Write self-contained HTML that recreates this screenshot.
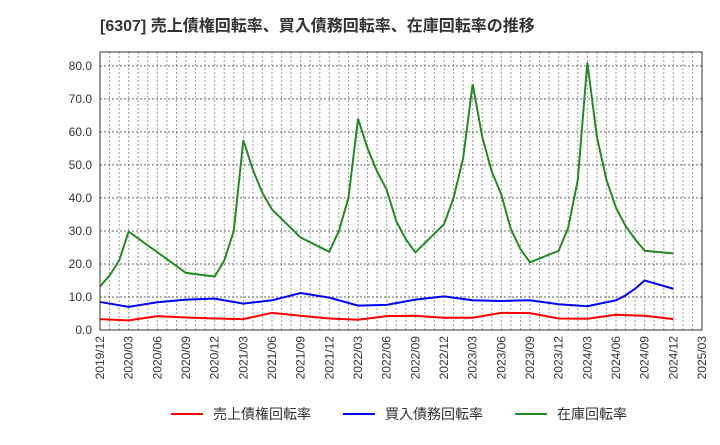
<!DOCTYPE html>
<html><head><meta charset="utf-8"><style>
body{margin:0;background:#fff;font-family:"Liberation Sans","Noto Sans CJK JP",sans-serif;}
</style></head><body>
<svg width="720" height="440" xmlns="http://www.w3.org/2000/svg">
<text x="100" y="31" font-size="16" font-weight="bold" fill="#333" font-family="Liberation Sans, Noto Sans CJK JP, sans-serif">[6307]  売上債権回転率、買入債務回転率、在庫回転率の推移</text>
<g id="grid"></g>
<g id="axes"></g>
<g id="series"></g>
<rect x="100" y="52" width="602" height="278" fill="none" stroke="#333" stroke-width="1"/>
<g font-size="14" font-family="Liberation Sans, Noto Sans CJK JP, sans-serif">
<line x1="171" y1="414" x2="203" y2="414" stroke="#ff0000" stroke-width="2"/><text x="213" y="419" fill="#333">売上債権回転率</text>
<line x1="343" y1="414" x2="375" y2="414" stroke="#0000ff" stroke-width="2"/><text x="385" y="419" fill="#333">買入債務回転率</text>
<line x1="515" y1="414" x2="547" y2="414" stroke="#228b22" stroke-width="2"/><text x="557" y="419" fill="#333">在庫回転率</text>
</g>
</svg>
<script>
const yTicks=[0,10,20,30,40,50,60,70,80];
const xTickLabels=["2019/12","2020/03","2020/06","2020/09","2020/12","2021/03","2021/06","2021/09","2021/12","2022/03","2022/06","2022/09","2022/12","2023/03","2023/06","2023/09","2023/12","2024/03","2024/06","2024/09","2024/12","2025/03"];
const invDates=["2019/12","2020/01","2020/02","2020/03","2020/09","2020/12","2021/01","2021/02","2021/03","2021/04","2021/05","2021/06","2021/09","2021/12","2022/01","2022/02","2022/03","2022/04","2022/05","2022/06","2022/07","2022/08","2022/09","2022/12","2023/01","2023/02","2023/03","2023/04","2023/05","2023/06","2023/07","2023/08","2023/09","2023/12","2024/01","2024/02","2024/03","2024/04","2024/05","2024/06","2024/07","2024/08","2024/09","2024/12"];
const invValues=[13.2,16.5,21,29.8,17.3,16.2,21,30,57.5,48.5,41.5,36.5,28,23.7,30,40,64,55,48,42.5,33,27.5,23.5,32,40,52,74.5,58.5,48,41,30.5,24.5,20.5,24,31,45.5,81,58.5,45.5,37,31.5,27.5,24,23.2];
const payDates=["2019/12","2020/03","2020/06","2020/09","2020/12","2021/03","2021/06","2021/09","2021/12","2022/03","2022/06","2022/09","2022/12","2023/03","2023/06","2023/09","2023/12","2024/03","2024/06","2024/07","2024/08","2024/09","2024/12"];
const payValues=[8.5,7,8.4,9.2,9.5,8,9,11.2,9.8,7.4,7.6,9.2,10.2,9,8.8,9,7.8,7.2,9,10.5,12.5,15,12.5];
const recDates=["2019/12","2020/03","2020/06","2020/09","2020/12","2021/03","2021/06","2021/09","2021/12","2022/03","2022/06","2022/09","2022/12","2023/03","2023/06","2023/09","2023/12","2024/03","2024/06","2024/09","2024/12"];
const recValues=[3.3,2.9,4.2,3.8,3.5,3.3,5.2,4.3,3.5,3.1,4.2,4.3,3.7,3.7,5.2,5.1,3.5,3.4,4.6,4.3,3.3];

const NS="http://www.w3.org/2000/svg";
const L=100,R=702,T=52,B=330,YMAX=84.2;
function mIdx(s){const p=s.split("/");return (+p[0]-2019)*12+(+p[1])-12;}
function x(s){return L+(R-L)*mIdx(s)/63;}
function y(v){return B-(B-T)*v/YMAX;}
const grid=document.getElementById("grid"),axes=document.getElementById("axes"),ser=document.getElementById("series");
for(let m=1;m<63;m++){
 const xx=L+(R-L)*m/63;
 const ln=document.createElementNS(NS,"line");
 
 
 ln.setAttribute("x1",xx);ln.setAttribute("x2",xx);ln.setAttribute("y1",T);ln.setAttribute("y2",B);
 ln.setAttribute("stroke","#999");ln.setAttribute("stroke-dasharray","2,2");ln.setAttribute("stroke-width","1");
 grid.appendChild(ln);
}
yTicks.forEach(v=>{
 const ln=document.createElementNS(NS,"line");
 
 
 ln.setAttribute("x1",L);ln.setAttribute("x2",R);ln.setAttribute("y1",y(v));ln.setAttribute("y2",y(v));
 ln.setAttribute("stroke","#666");ln.setAttribute("stroke-dasharray","2,2");
 grid.appendChild(ln);
 const t=document.createElementNS(NS,"text");
 
 
 t.setAttribute("x",92);t.setAttribute("y",y(v)+4);t.setAttribute("text-anchor","end");
 t.setAttribute("font-size","12");t.setAttribute("fill","#333");t.textContent=v.toFixed(1);
 axes.appendChild(t);
});
xTickLabels.forEach(s=>{
 const t=document.createElementNS(NS,"text");
 
 
 const xx=x(s)+4,yy=336;
 t.setAttribute("x",xx);t.setAttribute("y",yy);t.setAttribute("text-anchor","end");
 t.setAttribute("transform","rotate(-90 "+xx+" "+yy+")");
 t.setAttribute("font-size","12");t.setAttribute("fill","#333");t.textContent=s;
 axes.appendChild(t);
});
function line(d,v,c,name){
 const p=document.createElementNS(NS,"polyline");
 
 
 p.setAttribute("points",d.map((s,i)=>x(s)+","+y(v[i])).join(" "));
 p.setAttribute("fill","none");p.setAttribute("stroke",c);p.setAttribute("stroke-width","2");
 ser.appendChild(p);
}
line(recDates,recValues,"#ff0000","receivables-line");
line(payDates,payValues,"#0000ff","payables-line");
line(invDates,invValues,"#228b22","inventory-line");
</script>
</body></html>
